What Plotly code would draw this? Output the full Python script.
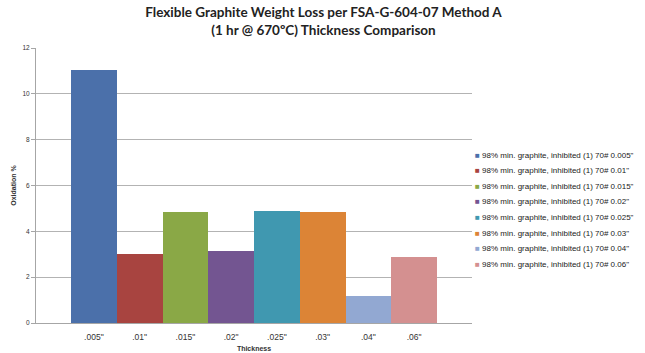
import plotly.graph_objects as go

categories = ['.005"', '.01"', '.015"', '.02"', '.025"', '.03"', '.04"', '.06"']
series_names = [
    '98% min. graphite, inhibited (1) 70# 0.005"',
    '98% min. graphite, inhibited (1) 70# 0.01"',
    '98% min. graphite, inhibited (1) 70# 0.015"',
    '98% min. graphite, inhibited (1) 70# 0.02"',
    '98% min. graphite, inhibited (1) 70# 0.025"',
    '98% min. graphite, inhibited (1) 70# 0.03"',
    '98% min. graphite, inhibited (1) 70# 0.04"',
    '98% min. graphite, inhibited (1) 70# 0.06"',
]
values = [11.05, 3.0, 4.83, 3.15, 4.9, 4.83, 1.2, 2.89]
colors = ['#4B70AA', '#A84440', '#8AA846', '#735591', '#4098B0', '#DC8436', '#92A8D2', '#D49090']
y_ticks = [0, 2, 4, 6, 8, 10, 12]

fig = go.Figure()
for cat, val, name, col in zip(categories, values, series_names, colors):
    fig.add_trace(go.Bar(x=[cat], y=[val], name=name, marker=dict(color=col, line=dict(width=0)),
                         showlegend=False))

# legend drawn as text annotations
for i, (name, col) in enumerate(zip(series_names, colors)):
    fig.add_annotation(
        xref='paper', yref='paper', x=(473 - 36) / 436, y=(323 - 155 - i * 15.6) / 275,
        xanchor='left', yanchor='middle', showarrow=False,
        text=f"<span style='color:{col}'>■</span> {name}",
        font=dict(family='Liberation Sans Narrow, Arial Narrow, Liberation Sans, Arial', size=8, color='#222'),
    )

fig.update_layout(
    width=645, height=353,
    margin=dict(l=36, r=173, t=48, b=30),
    paper_bgcolor='white', plot_bgcolor='white',
    barmode='overlay', bargap=0,
    title=dict(
        text='<b>Flexible Graphite Weight Loss per FSA-G-604-07 Method A<br>(1 hr @ 670ºC) Thickness Comparison</b>',
        x=(140 + 507) / 2 / 645, xanchor='center', y=1 - 17 / 353, yanchor='middle',
        font=dict(family='Lato, Open Sans, sans-serif', size=13.5, color='#222'),
    ),
    xaxis=dict(
        type='category', range=[-1.265, 8.265], automargin=False,
        showline=True, linecolor='#a6a6a6', linewidth=1, showgrid=False,
        ticks='', ticklabelstandoff=6,
        tickfont=dict(family='Liberation Sans, Arial', size=8.5, color='#333'),
        title=dict(text='<b>Thickness</b>', standoff=4,
                   font=dict(family='Liberation Sans, Arial', size=7, color='#333')),
    ),
    yaxis=dict(
        range=[0, 12], tickvals=y_ticks, automargin=False,
        showline=True, linecolor='#a6a6a6', linewidth=1,
        showgrid=True, gridcolor='#b3b3b3', gridwidth=1, zeroline=False,
        ticks='outside', ticklen=4, tickcolor='#a6a6a6',
        tickfont=dict(family='Liberation Sans, Arial', size=6.5, color='#333'),
        title=dict(text='<b>Oxidation %</b>', standoff=5,
                   font=dict(family='Liberation Sans, Arial', size=7, color='#333')),
    ),
)

fig.write_html('out.html')
